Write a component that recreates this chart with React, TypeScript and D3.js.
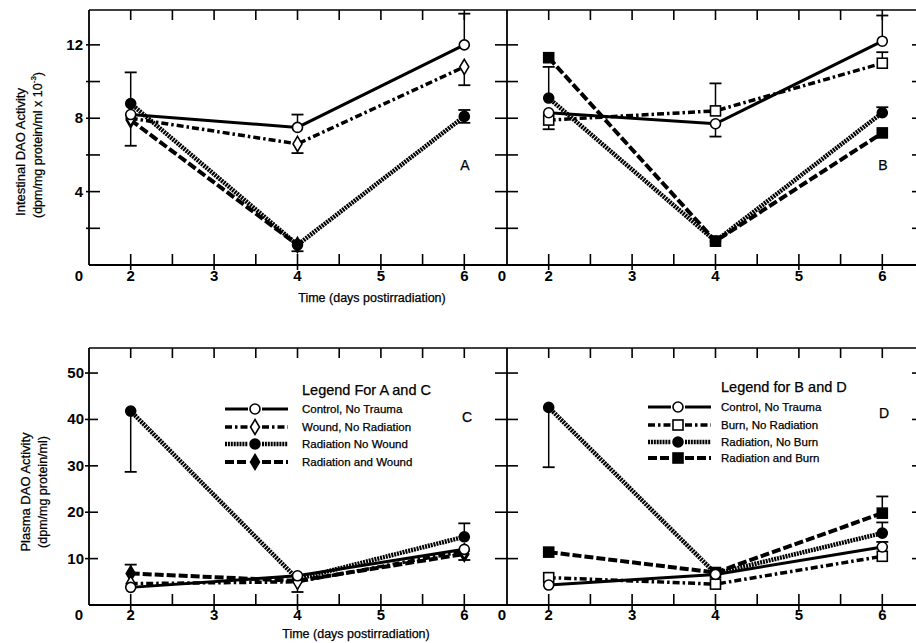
import { useEffect, useRef } from 'react';
import * as d3 from 'd3';

// days sampled
const days = [2, 4, 6];

// Panel A - intestinal, wound study
const aControl = [8.2, 7.5, 12.0];
const aWound = [8.0, 6.6, 10.8];
const aRadiation = [8.8, 1.1, 8.1];
const aRadWound = [7.9, 1.1, null];

// Panel B - intestinal, burn study
const bControl = [8.3, 7.7, 12.2];
const bBurn = [7.9, 8.4, 11.0];
const bRadiation = [9.1, 1.3, 8.3];
const bRadBurn = [11.3, 1.3, 7.2];

// Panel C - plasma, wound study
const cControl = [3.8, 6.3, 12.0];
const cWound = [4.6, 5.0, 11.6];
const cRadiation = [41.8, 5.6, 14.7];
const cRadWound = [6.8, 5.2, 11.0];

// Panel D - plasma, burn study
const dControl = [4.3, 6.6, 12.5];
const dBurn = [5.9, 4.5, 10.5];
const dRadiation = [42.6, 6.8, 15.5];
const dRadBurn = [11.4, 7.0, 19.8];

// error bars: [day, start, end]
const aErrors = [[4, 7.5, 8.2], [6, 12.0, 13.7], [4, 6.6, 6.1], [6, 10.8, 9.8], [2, 8.8, 10.5], [6, 8.1, 8.45], [6, 8.1, 7.75], [2, 7.9, 6.5], [4, 1.1, 0.75]];
const bErrors = [[4, 8.4, 9.9], [4, 7.7, 7.0], [6, 12.2, 13.6], [6, 11.0, 11.6], [2, 7.9, 7.4], [2, 9.1, 10.8], [6, 8.3, 8.6]];
const cErrors = [[2, 41.8, 28.7], [6, 14.7, 17.6], [2, 6.8, 8.7], [4, 5.2, 2.8], [6, 11.6, 9.7]];
const dErrors = [[2, 42.6, 29.7], [6, 15.5, 17.8], [6, 19.8, 23.4], [6, 12.5, 13.6]];

const topTicks = [2, 4, 6, 8, 10, 12];
const topLabels = [4, 8, 12];
const bottomTicks = [10, 20, 30, 40, 50];
const xLabels = [2, 3, 4, 5, 6];
const xMinorTicks = [2, 2.5, 3, 3.5, 4, 4.5, 5, 5.5, 6];

const woundLegend = ['Control, No Trauma', 'Wound, No Radiation', 'Radiation No Wound', 'Radiation and Wound'];
const burnLegend = ['Control, No Trauma', 'Burn, No Radiation', 'Radiation, No Burn', 'Radiation and Burn'];

const styles = [
  { dash: null, width: 3, marker: 'circle', fill: 'white' },
  { dash: '7,3,2.5,3', width: 3.5, marker: 'diamond', fill: 'white' },
  { dash: '2,0.9', width: 4.5, marker: 'circle', fill: 'black' },
  { dash: '9,3', width: 4, marker: 'diamond', fill: 'black' },
];
const burnStyles = [styles[0], { ...styles[1], marker: 'square' }, styles[2], { ...styles[3], marker: 'square' }];

const FONT = 'Liberation Sans, Arial, Helvetica, sans-serif';

function drawMarker(g, kind, fill, cx, cy) {
  if (kind === 'circle') {
    g.append('circle').attr('cx', cx).attr('cy', cy).attr('r', 5)
      .attr('fill', fill).attr('stroke', 'black').attr('stroke-width', 1.6);
  } else if (kind === 'diamond') {
    g.append('path')
      .attr('d', `M${cx},${cy - 7.5}L${cx + 4.5},${cy}L${cx},${cy + 7.5}L${cx - 4.5},${cy}Z`)
      .attr('fill', fill).attr('stroke', 'black').attr('stroke-width', 1.6);
  } else {
    g.append('rect').attr('x', cx - 5).attr('y', cy - 5).attr('width', 10).attr('height', 10)
      .attr('fill', fill).attr('stroke', 'black').attr('stroke-width', 1.6);
  }
}

function App() {
  const svgRef = useRef();

  useEffect(() => {
    const svg = d3.select(svgRef.current);
    svg.selectAll('*').remove();

    const xLeft = d3.scaleLinear().domain([1.5, 6.5]).range([89, 506]);
    const xRight = d3.scaleLinear().domain([1.5, 6.5]).range([507, 924]);
    const yTop = d3.scaleLinear().domain([0, 13.9]).range([265, 10]);
    const yBottom = d3.scaleLinear().domain([0, 55.4]).range([605, 348]);

    const txt = (x, y, s, size, anchor = 'middle', weight = 'normal') =>
      svg.append('text').attr('x', x).attr('y', y).attr('text-anchor', anchor)
        .attr('font-family', FONT).attr('font-size', size).attr('font-weight', weight)
        .attr('fill', 'black').attr('stroke', 'black').attr('stroke-width', weight === 'bold' ? 0 : 0.25)
        .text(s);

    // frames
    const frame = (y) => {
      const [y0, y1] = y.range();
      const g = svg.append('g').attr('stroke', 'black').attr('fill', 'none');
      g.append('line').attr('x1', 89).attr('x2', 916).attr('y1', y1).attr('y2', y1).attr('stroke-width', 1.6);
      g.append('line').attr('x1', 89).attr('x2', 916).attr('y1', y0).attr('y2', y0).attr('stroke-width', 1.8);
      g.append('line').attr('x1', 89).attr('x2', 89).attr('y1', y1).attr('y2', y0).attr('stroke-width', 1.8);
      g.append('line').attr('x1', 507).attr('x2', 507).attr('y1', y1).attr('y2', y0).attr('stroke-width', 1.8);
      [xLeft, xRight].forEach(x => {
        xMinorTicks.forEach(t => {
          g.append('line').attr('x1', x(t)).attr('x2', x(t)).attr('y1', y1).attr('y2', y1 + 10).attr('stroke-width', 1.6);
          const isInt = Number.isInteger(t);
          g.append('line').attr('x1', x(t)).attr('x2', x(t)).attr('y1', y0 - 11).attr('y2', y0 + (isInt ? 5 : 0)).attr('stroke-width', 1.6);
        });
      });
      return g;
    };

    const gTop = frame(yTop);
    topTicks.forEach(t => {
      gTop.append('line').attr('x1', 86).attr('x2', 100).attr('y1', yTop(t)).attr('y2', yTop(t)).attr('stroke-width', 1.6);
      gTop.append('line').attr('x1', 495).attr('x2', 518).attr('y1', yTop(t)).attr('y2', yTop(t)).attr('stroke-width', 1.6);
      gTop.append('line').attr('x1', 912).attr('x2', 916).attr('y1', yTop(t)).attr('y2', yTop(t)).attr('stroke-width', 1.6);
    });
    const gBottom = frame(yBottom);
    bottomTicks.forEach(t => {
      gBottom.append('line').attr('x1', 85).attr('x2', 98).attr('y1', yBottom(t)).attr('y2', yBottom(t)).attr('stroke-width', 1.6);
      gBottom.append('line').attr('x1', 495).attr('x2', 518).attr('y1', yBottom(t)).attr('y2', yBottom(t)).attr('stroke-width', 1.6);
      gBottom.append('line').attr('x1', 912).attr('x2', 916).attr('y1', yBottom(t)).attr('y2', yBottom(t)).attr('stroke-width', 1.6);
    });

    // tick labels
    topLabels.forEach(t => txt(83, yTop(t) + 5, t, 15, 'end', 'bold'));
    bottomTicks.forEach(t => txt(84, yBottom(t) + 5, t, 15, 'end', 'bold'));
    [281, 620].forEach(by => {
      xLabels.forEach(t => {
        txt(xLeft(t), by, t, 15, 'middle', 'bold');
        txt(xRight(t), by, t, 15, 'middle', 'bold');
      });
      txt(79, by, '0', 15, 'middle', 'bold');
      txt(502, by, '0', 15, 'middle', 'bold');
    });

    // axis titles
    txt(372, 302, 'Time (days postirradiation)', 12.5);
    txt(356, 638, 'Time (days postirradiation)', 12.5);
    const vtxt = (x, y, s, size = 13) =>
      svg.append('text').attr('transform', `translate(${x},${y}) rotate(-90)`)
        .attr('text-anchor', 'middle').attr('dominant-baseline', 'central')
        .attr('font-family', FONT).attr('font-size', size).attr('fill', 'black')
        .attr('stroke', 'black').attr('stroke-width', 0.25).text(s);
    vtxt(20, 152, 'Intestinal DAO Activity');
    const sup = vtxt(38, 145, '(dpm/mg protein/ml x 10', 12.5);
    sup.append('tspan').attr('baseline-shift', 'super').attr('font-size', 8).text('-3');
    sup.append('tspan').text(')');
    vtxt(25, 492, 'Plasma DAO Activity');
    vtxt(43, 492, '(dpm/mg protein/ml)', 12.5);

    // panel letters
    txt(465, 170, 'A', 14);
    txt(883, 170, 'B', 14);
    txt(467, 422, 'C', 14);
    txt(884, 418, 'D', 14);

    const panel = (x, y, series, sty, errors) => {
      const g = svg.append('g');
      // error bars
      errors.forEach(([d, v0, v1]) => {
        g.append('line').attr('x1', x(d)).attr('x2', x(d)).attr('y1', y(v0)).attr('y2', y(v1))
          .attr('stroke', 'black').attr('stroke-width', 1.5);
        g.append('line').attr('x1', x(d) - 6).attr('x2', x(d) + 6).attr('y1', y(v1)).attr('y2', y(v1))
          .attr('stroke', 'black').attr('stroke-width', 1.8);
      });
      series.forEach((vals, i) => {
        const pts = days.map((d, j) => [d, vals[j]]).filter(p => p[1] != null);
        const line = d3.line().x(p => x(p[0])).y(p => y(p[1]));
        g.append('path').attr('d', line(pts)).attr('fill', 'none')
          .attr('stroke', 'black').attr('stroke-width', sty[i].width)
          .attr('stroke-dasharray', sty[i].dash);
      });
      series.forEach((vals, i) => {
        days.forEach((d, j) => {
          if (vals[j] != null) drawMarker(g, sty[i].marker, sty[i].fill, x(d), y(vals[j]));
        });
      });
    };

    panel(xLeft, yTop, [aRadWound, aRadiation, aWound, aControl], [styles[3], styles[2], styles[1], styles[0]], aErrors);
    panel(xRight, yTop, [bRadBurn, bRadiation, bBurn, bControl], [burnStyles[3], burnStyles[2], burnStyles[1], burnStyles[0]], bErrors);
    panel(xLeft, yBottom, [cRadiation, cRadWound, cWound, cControl], [styles[2], styles[3], styles[1], styles[0]], cErrors);
    panel(xRight, yBottom, [dRadiation, dRadBurn, dBurn, dControl], [burnStyles[2], burnStyles[3], burnStyles[1], burnStyles[0]], dErrors);

    // legends
    const legend = (title, labels, sty, lx, tx, titleY, rows) => {
      txt(tx, titleY + 5, title, 14.5, 'start');
      labels.forEach((lab, i) => {
        const ry = rows[i];
        [[lx, lx + 23], [lx + 37, lx + 63]].forEach(([x1, x2]) => {
          svg.append('line').attr('x1', x1).attr('x2', x2).attr('y1', ry).attr('y2', ry)
            .attr('stroke', 'black').attr('stroke-width', sty[i].width)
            .attr('stroke-dasharray', sty[i].dash);
        });
        drawMarker(svg, sty[i].marker, sty[i].fill, lx + 30, ry);
        txt(tx, ry + 4, lab, 11.5, 'start');
      });
    };
    legend('Legend For A and C', woundLegend, styles, 225, 302, 390, [409, 427, 444, 462]);
    legend('Legend for B and D', burnLegend, burnStyles, 648, 721, 387, [407, 425, 442, 458]);
  }, []);

  return (
    <div style={{ position: 'absolute', left: 0, top: 0, background: 'white' }}>
      <svg ref={svgRef} width={916} height={643} style={{ display: 'block' }}></svg>
    </div>
  );
}

export default App;
